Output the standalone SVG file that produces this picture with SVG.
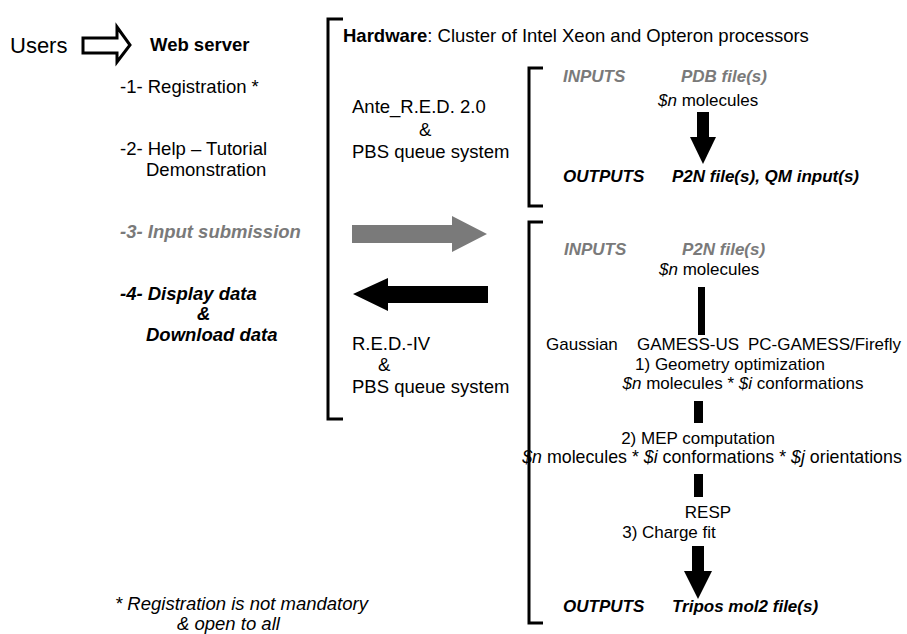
<svg xmlns="http://www.w3.org/2000/svg" width="907" height="634" viewBox="0 0 907 634">
<style>
text{font-family:"Liberation Sans",Arial,sans-serif;font-size:18.5px;fill:#000}
.r{font-size:17px}
.b{font-weight:bold}
.bi{font-weight:bold;font-style:italic}
.i{font-style:italic}
.g{fill:#7a7a7a}
.m{text-anchor:middle}
.br{fill:none;stroke:#000;stroke-width:3}
</style>
<rect width="907" height="634" fill="#fff"/>
<g id="users"><text x="10" y="53" style="font-size:22px">Users</text></g>
<g id="webserver">
<text x="150" y="51" class="b">Web server</text>
<text x="120" y="93">-1- Registration *</text>
<text x="120" y="155">-2- Help – Tutorial</text>
<text x="146" y="176">Demonstration</text>
<text x="120" y="238" class="bi g">-3- Input submission</text>
<text x="120" y="300" class="bi">-4- Display data</text>
<text x="197" y="320" class="bi">&amp;</text>
<text x="146" y="341" class="bi">Download data</text>
</g>
<g id="footnote">
<text x="115" y="610" class="i">* Registration is not mandatory</text>
<text x="177" y="630" class="i">&amp; open to all</text>
</g>
<g id="hardware">
<path class="br" d="M343,19 H328 V419 H343"/>
<text x="343" y="42"><tspan class="b">Hardware</tspan>: Cluster of Intel Xeon and Opteron processors</text>
<text x="352" y="113">Ante_R.E.D. 2.0</text>
<text x="419" y="136">&amp;</text>
<text x="352" y="158">PBS queue system</text>
<text x="352" y="350">R.E.D.-IV</text>
<text x="378" y="371">&amp;</text>
<text x="352" y="393">PBS queue system</text>
</g>
<g id="antered">
<path class="br" d="M543,68 H529 V206 H543"/>
<text x="563" y="82" class="r bi g">INPUTS</text>
<text x="681" y="82" class="r bi g">PDB file(s)</text>
<text x="658" y="106" class="r"><tspan class="i">$n</tspan> molecules</text>
<text x="563" y="182" class="r bi">OUTPUTS</text>
<text x="672" y="182" class="r bi">P2N file(s), QM input(s)</text>
</g>
<g id="red">
<path class="br" d="M543,222 H529 V623 H543"/>
<text x="564" y="255" class="r bi g">INPUTS</text>
<text x="682" y="255" class="r bi g">P2N file(s)</text>
<text x="659" y="275" class="r"><tspan class="i">$n</tspan> molecules</text>
<text x="546" y="350" class="r">Gaussian</text>
<text x="637" y="350" class="r">GAMESS-US</text>
<text x="748" y="350" class="r">PC-GAMESS/Firefly</text>
<text x="730" y="370" class="r m">1) Geometry optimization</text>
<text x="743" y="389" class="r m"><tspan class="i">$n</tspan> molecules * <tspan class="i">$i</tspan> conformations</text>
<text x="698" y="444" class="r m">2) MEP computation</text>
<text x="712" y="463" class="m" style="font-size:17.8px"><tspan class="i">$n</tspan> molecules * <tspan class="i">$i</tspan> conformations * <tspan class="i">$j</tspan> orientations</text>
<text x="708" y="518" class="r m">RESP</text>
<text x="669" y="538" class="r m">3) Charge fit</text>
<text x="563" y="612" class="r bi">OUTPUTS</text>
<text x="672" y="612" class="r bi">Tripos mol2 file(s)</text>
</g>
<g id="connectors">
<path d="M83,38 H117 V27 L130,45 L117,62 V53 H83 Z" fill="#fff" stroke="#000" stroke-width="3"/>
<path d="M352,225 H452 V216 L487,234 L452,252 V243 H352 Z" fill="#7a7a7a"/>
<path d="M353,294 L388,278 V286 H488 V303 H388 V311 Z" fill="#000"/>
<rect x="697" y="112" width="12" height="25"/>
<path d="M690,137 H716 L703,164 Z"/>
<rect x="698" y="287" width="7" height="48"/>
<rect x="694" y="401" width="9" height="22"/>
<rect x="694" y="474" width="9" height="23"/>
<rect x="692" y="546" width="12" height="26"/>
<path d="M684,571 H712 L698,599 Z"/>
</g>
</svg>
